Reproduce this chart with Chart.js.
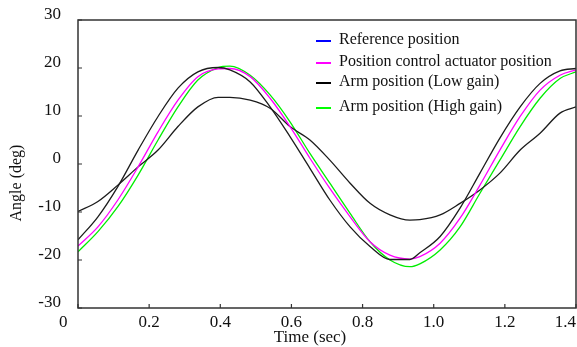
<!DOCTYPE html>
<html>
<head>
<meta charset="utf-8">
<script src="https://cdn.jsdelivr.net/npm/chart.js@4"></script>
<style>
  html, body { margin: 0; padding: 0; background: #fff; }
  canvas { display: block; }
</style>
</head>
<body>
<canvas id="chart" width="577" height="347"></canvas>
<script>
// sample times (sec)
const times = [0, 0.056, 0.112, 0.169, 0.225, 0.281, 0.337, 0.394, 0.427, 0.484, 0.540, 0.596, 0.652, 0.708,
  0.765, 0.821, 0.877, 0.933, 0.961, 1.018, 1.074, 1.130, 1.186, 1.243, 1.299, 1.355, 1.40];

// angles (deg)
const referencePos = [-15.8, -11.0, -4.7, 2.9, 9.9, 15.8, 19.2, 20.1, 19.6, 17.1, 11.9, 5.7, -0.9, -7.5,
  -13.1, -17.2, -19.9, -19.9, -18.5, -15.1, -9.2, -1.9, 5.4, 11.9, 16.8, 19.4, 19.9];
const actuatorPos = [-17.1, -13.1, -7.5, -0.6, 6.7, 13.3, 18.2, 19.8, 19.9, 18.2, 13.7, 7.8, 1.2, -5.1,
  -11.0, -16.2, -19.0, -19.8, -19.3, -16.5, -11.3, -4.4, 2.9, 9.9, 15.4, 18.5, 19.6];
const armLowGain = [-9.9, -7.8, -4.4, -0.6, 2.9, 7.8, 11.9, 13.9, 13.9, 13.3, 11.6, 7.8, 5.0, 0.8,
  -4.0, -8.2, -10.6, -11.7, -11.6, -10.6, -8.2, -5.4, -1.9, 2.9, 6.4, 10.6, 11.9];
const armHighGain = [-18.3, -14.1, -8.9, -2.3, 5.0, 11.9, 17.5, 20.1, 20.4, 18.5, 14.4, 8.8, 2.2, -4.0,
  -10.3, -16.2, -20.0, -21.4, -20.8, -17.9, -13.1, -6.1, 0.8, 7.8, 13.7, 17.8, 19.2];

const seriesLabels = ['Reference position', 'Position control actuator position',
  'Arm position (Low gain)', 'Arm position (High gain)'];
const legendColors = ['#0000ff', '#ff00ff', '#000000', '#00ff00'];
const lineColors = ['#1c1c1c', '#ff00ff', '#1c1c1c', '#00ee00'];

const xTicks = [0, 0.2, 0.4, 0.6, 0.8, 1.0, 1.2, 1.4];
const yTicks = [-30, -20, -10, 0, 10, 20, 30];

function pts(vals) {
  return times.map((t, i) => ({ x: t, y: vals[i] }));
}

const serif = 'Liberation Serif, Times New Roman, serif';

// frame box, inward tick marks, axis titles and the in-plot legend
const decorations = {
  id: 'decorations',
  afterDraw(chart) {
    const { ctx, chartArea: a, scales } = chart;
    ctx.save();
    ctx.strokeStyle = '#333';
    ctx.lineWidth = 1.5;
    ctx.strokeRect(a.left, a.top, a.right - a.left, a.bottom - a.top);

    ctx.lineWidth = 1.2;
    ctx.beginPath();
    xTicks.forEach(v => {
      const px = scales.x.getPixelForValue(v);
      ctx.moveTo(px, a.bottom);
      ctx.lineTo(px, a.bottom - 4);
    });
    yTicks.forEach(v => {
      const py = scales.y.getPixelForValue(v);
      ctx.moveTo(a.left, py);
      ctx.lineTo(a.left + 4, py);
    });
    ctx.stroke();

    ctx.fillStyle = '#111';
    ctx.font = '17px ' + serif;
    ctx.textAlign = 'center';
    ctx.textBaseline = 'middle';
    ctx.fillText('Time (sec)', a.left + 232, a.bottom + 30);

    ctx.save();
    ctx.font = '16px ' + serif;
    ctx.translate(17, a.top + 163);
    ctx.rotate(-Math.PI / 2);
    ctx.fillText('Angle (deg)', 0, 0);
    ctx.restore();

    // legend
    const rows = [20, 42, 62, 87];
    ctx.font = '16px ' + serif;
    ctx.textAlign = 'left';
    seriesLabels.forEach((lab, i) => {
      const y = a.top + rows[i];
      ctx.strokeStyle = legendColors[i];
      ctx.lineWidth = 2;
      ctx.beginPath();
      ctx.moveTo(a.left + 238, y + 1);
      ctx.lineTo(a.left + 253, y + 1);
      ctx.stroke();
      ctx.fillStyle = '#111';
      ctx.fillText(lab, a.left + 261, y);
    });
    ctx.restore();
  }
};

const datasets = [referencePos, actuatorPos, armLowGain, armHighGain].map((vals, i) => ({
  label: seriesLabels[i],
  data: pts(vals),
  borderColor: lineColors[i],
  borderWidth: 1.3,
  pointRadius: 0,
  cubicInterpolationMode: 'monotone',
  fill: false
}));

new Chart(document.getElementById('chart'), {
  type: 'line',
  data: { datasets },
  options: {
    responsive: false,
    animation: false,
    layout: { padding: { top: 20, right: 1, left: 0, bottom: 0 } },
    plugins: {
      legend: { display: false },
      tooltip: { enabled: false }
    },
    scales: {
      x: {
        type: 'linear',
        min: 0,
        max: 1.4,
        afterBuildTicks: s => { s.ticks = xTicks.map(v => ({ value: v })); },
        afterFit: s => { s.height = 39; s.paddingLeft = 0; s.paddingRight = 0; },
        grid: { display: false, drawTicks: false },
        border: { display: false },
        ticks: {
          padding: 4,
          color: '#111',
          font: { family: serif, size: 17 },
          maxRotation: 0,
          autoSkip: false,
          callback: v => {
            if (v === 0) return '0       ';
            if (v === 1.4) return '1.4     ';
            return Number(v).toFixed(1);
          }
        }
      },
      y: {
        min: -30,
        max: 30,
        afterBuildTicks: s => { s.ticks = yTicks.map(v => ({ value: v })); },
        afterFit: s => { s.width = 78; s.paddingTop = 0; s.paddingBottom = 0; },
        grid: { display: false, drawTicks: false },
        border: { display: false },
        ticks: {
          padding: 17,
          labelOffset: -5,
          color: '#111',
          font: { family: serif, size: 17 },
          autoSkip: false
        }
      }
    }
  },
  plugins: [decorations]
});
</script>
</body>
</html>
